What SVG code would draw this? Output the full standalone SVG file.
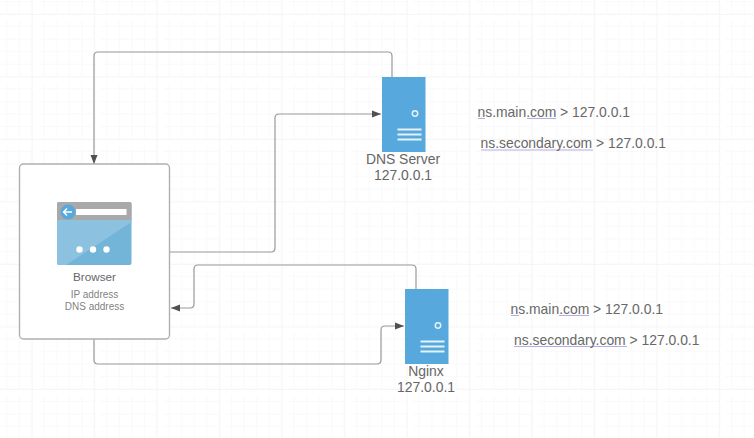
<svg xmlns="http://www.w3.org/2000/svg" width="754" height="438" viewBox="0 0 754 438">
<style>
.bg{fill:#fff}
.conn{stroke:#999;stroke-width:1.2;fill:none}
.box{fill:#fff;stroke:#b0b0b0;stroke-width:1.4}
.srv{fill:#57a8dc}
.w{fill:#e6f2fa}
.t{font-family:"Liberation Sans",Arial,sans-serif;fill:#666;text-anchor:middle}
.ns{font-family:"Liberation Sans",Arial,sans-serif;font-size:13.9px;fill:#686868}
.ul{stroke:#b5aee6;stroke-width:1.2;fill:none}
</style>
<defs>
<marker id="a" markerUnits="userSpaceOnUse" markerWidth="10" markerHeight="10" refX="9" refY="4" orient="auto"><path d="M0 0.500L9 4L0 7.500Z" fill="#505050"/></marker>
<pattern id="g" patternUnits="userSpaceOnUse" x="31.700" y="14" width="62.500" height="62.500">
<path d="M6.250 0V62.500M18.750 0V62.500M31.250 0V62.500M43.750 0V62.500M56.250 0V62.500M0 6.250H62.500M0 18.750H62.500M0 31.250H62.500M0 43.750H62.500M0 56.250H62.500" stroke="#f9f9f9" stroke-width="1" fill="none" transform="translate(6.250 6.250)"/>
<path d="M0 0V62.500M0 0H62.500" stroke="#f3f3f3" stroke-width="1.500" fill="none"/>
</pattern>
</defs>
<rect class="bg" width="754" height="438"/>
<rect width="754" height="438" fill="url(#g)"/>
<g id="connectors">
<path class="conn" marker-end="url(#a)" d="M392 77V56Q392 52 388 52H98Q94 52 94 56V164"/>
<path class="conn" marker-end="url(#a)" d="M170 252H271Q275 252 275 248V118Q275 114 279 114H381"/>
<path class="conn" marker-end="url(#a)" d="M416 289V269Q416 265 412 265H198Q194 265 194 269V304Q194 308 190 308H171"/>
<path class="conn" marker-end="url(#a)" d="M94 339V360Q94 364 98 364H377Q381 364 381 360V330Q381 326 385 326H404"/>
</g>
<g id="browser">
<rect class="box" x="19.500" y="164" width="150" height="175" rx="4"/>
<rect x="57" y="202" width="74.500" height="63" rx="2" fill="#73b4d9"/>
<path d="M57 220H131.500V222L66 265H59Q57 265 57 263Z" fill="#8cc2e0"/>
<path d="M57 220V204Q57 202 59 202H129.500Q131.500 202 131.500 204V220Z" fill="#a9a9a9"/>
<circle cx="68" cy="212" r="7.500" fill="#57a8dc"/>
<path d="M63.500 212H72M67 208.500L63.500 212L67 215.500" fill="none" stroke="#fff" stroke-width="1.500"/>
<rect x="76" y="209" width="50.500" height="6" fill="#fff"/>
<circle cx="79.500" cy="249.500" r="3.200" fill="#fff"/>
<circle cx="93" cy="249.500" r="3.200" fill="#fff"/>
<circle cx="106.500" cy="249.500" r="3.200" fill="#fff"/>
<text class="t" x="94.500" y="281" font-size="11.700">Browser</text>
<text class="t" x="94.500" y="298" font-size="10" fill-opacity=".85">IP address</text>
<text class="t" x="94.500" y="310" font-size="10" fill-opacity=".85">DNS address</text>
</g>
<g id="dns-server">
<rect class="srv" x="382" y="77" width="43.500" height="75"/>
<circle cx="415" cy="113.500" r="2.700" fill="none" stroke="#e6f2fa" stroke-width="1.500"/>
<rect class="w" x="397.500" y="128.500" width="24" height="2"/>
<rect class="w" x="397.500" y="133.500" width="24" height="2"/>
<rect class="w" x="397.500" y="138.500" width="24" height="2"/>
<text class="t" x="403" y="163.500" font-size="13.900">DNS Server</text>
<text class="t" x="403" y="180" font-size="13.900">127.0.0.1</text>
</g>
<g id="nginx">
<rect class="srv" x="405" y="289" width="43.500" height="75"/>
<circle cx="438" cy="325.500" r="2.700" fill="none" stroke="#e6f2fa" stroke-width="1.500"/>
<rect class="w" x="420.500" y="340.500" width="24" height="2"/>
<rect class="w" x="420.500" y="345.500" width="24" height="2"/>
<rect class="w" x="420.500" y="350.500" width="24" height="2"/>
<text class="t" x="426" y="375.500" font-size="13.900">Nginx</text>
<text class="t" x="426" y="392" font-size="13.900">127.0.0.1</text>
</g>
<g id="records-dns">
<path class="ul" d="M478 118.500H485M527 118.500H556M481 150H593"/>
<text class="ns" x="477.500" y="117">ns.main.com &gt; 127.0.0.1</text>
<text class="ns" x="480.500" y="148">ns.secondary.com &gt; 127.0.0.1</text>
</g>
<g id="records-nginx">
<path class="ul" d="M511 315.500H519M559 315.500H589M514 346.500H627"/>
<text class="ns" x="510.500" y="314">ns.main.com &gt; 127.0.0.1</text>
<text class="ns" x="514" y="345">ns.secondary.com &gt; 127.0.0.1</text>
</g>
</svg>
